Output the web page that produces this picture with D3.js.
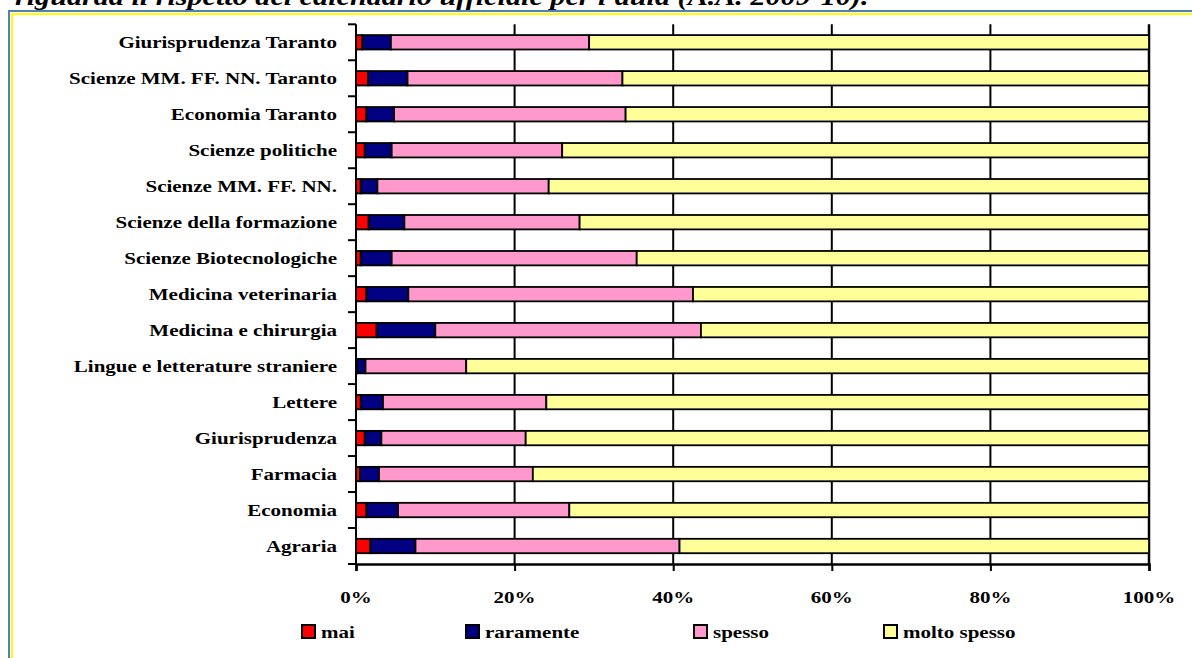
<!DOCTYPE html>
<html>
<head>
<meta charset="utf-8">
<script src="https://cdn.jsdelivr.net/npm/d3@7"></script>
<style>
  html, body { margin: 0; padding: 0; background: #fff; }
  svg { display: block; }
  text { font-family: "Liberation Serif", "Times New Roman", serif; font-weight: bold; fill: #000; }
</style>
</head>
<body>
<svg id="chart" width="1192" height="658"></svg>
<script>
// dati (percentuali per facoltà, dall'alto verso il basso)
const categories = [
  "Giurisprudenza Taranto", "Scienze MM. FF. NN. Taranto", "Economia Taranto",
  "Scienze politiche", "Scienze MM. FF. NN.", "Scienze della formazione",
  "Scienze Biotecnologiche", "Medicina veterinaria", "Medicina e chirurgia",
  "Lingue e letterature straniere", "Lettere", "Giurisprudenza",
  "Farmacia", "Economia", "Agraria"
];
const mai         = [0.8, 1.5, 1.3, 1.1, 0.6, 1.6, 0.6, 1.3, 2.6, 0.2, 0.6, 1.1, 0.5, 1.3, 1.8];
const raramente   = [3.6, 5.0, 3.5, 3.4, 2.1, 4.5, 3.9, 5.3, 7.4, 1.0, 2.8, 2.1, 2.4, 4.0, 5.7];
const spesso      = [25.0, 27.1, 29.2, 21.5, 21.6, 22.1, 30.9, 35.9, 33.5, 12.7, 20.6, 18.2, 19.4, 21.6, 33.3];
const moltoSpesso = [70.6, 66.4, 66.0, 74.0, 75.7, 71.8, 64.6, 57.5, 56.5, 86.1, 76.0, 78.6, 77.7, 73.1, 59.2];
const seriesNames = ["mai", "raramente", "spesso", "molto spesso"];
const seriesColors = ["#FF0000", "#000080", "#FF99CC", "#FFFF99"];
const tickValues = [0, 20, 40, 60, 80, 100];
const tickLabels = ["0%", "20%", "40%", "60%", "80%", "100%"];
const title = "riguarda il rispetto del calendario ufficiale per l'aula (A.A. 2009-10).";

const svg = d3.select("#chart");
const stretch = 1.2;

// titolo tagliato in alto
svg.append("text")
   .attr("transform", "translate(15,5) scale(1.16,1)")
   .style("font-size", "26px")
   .style("font-style", "italic")
   .text(title);

// bordo
svg.append("path").attr("d", "M9,658V11H1192").attr("fill", "none")
   .attr("stroke", "#4F81BD").attr("stroke-width", 2);
svg.append("path").attr("d", "M12,658V14H1192").attr("fill", "none")
   .attr("stroke", "#FFFF00").attr("stroke-width", 2);

const x = d3.scaleLinear().domain([0, 100]).range([356, 1149]);
const y = d3.scaleBand().domain(categories).range([24.3, 564]).paddingInner(0.6).paddingOuter(0.3);
const plotTop = y.range()[0], plotBottom = y.range()[1];

const rows = categories.map((c, i) => ({
  cat: c, "mai": mai[i], "raramente": raramente[i], "spesso": spesso[i], "molto spesso": moltoSpesso[i]
}));
const stack = d3.stack().keys(seriesNames)(rows);

// griglia verticale
svg.append("g").selectAll("line")
   .data(tickValues.slice(1))
   .enter().append("line")
   .attr("x1", d => x(d)).attr("x2", d => x(d))
   .attr("y1", plotTop).attr("y2", plotBottom)
   .attr("stroke", "#000").attr("stroke-width", d => d === 100 ? 2.5 : 2);

// barre
svg.append("g").selectAll("g")
   .data(stack)
   .enter().append("g")
   .attr("fill", (d, i) => seriesColors[i])
   .selectAll("rect")
   .data(d => d)
   .enter().append("rect")
   .attr("x", d => x(d[0]))
   .attr("width", d => x(d[1]) - x(d[0]))
   .attr("y", d => y(d.data.cat))
   .attr("height", y.bandwidth())
   .attr("stroke", "#000")
   .attr("stroke-width", 1.8);

// asse categorie
const step = y.step();
svg.append("line").attr("x1", x(0)).attr("x2", x(0)).attr("y1", plotTop).attr("y2", plotBottom)
   .attr("stroke", "#000").attr("stroke-width", 2);
svg.append("g").selectAll("line")
   .data(categories.concat(["end"]))
   .enter().append("line")
   .attr("x1", x(0) - 8).attr("x2", x(0))
   .attr("y1", (d, i) => plotTop + i * step).attr("y2", (d, i) => plotTop + i * step)
   .attr("stroke", "#000").attr("stroke-width", 2);

svg.append("g").selectAll("text")
   .data(categories)
   .enter().append("text")
   .attr("text-anchor", "end")
   .attr("transform", d => `translate(337,${y(d) + y.bandwidth() / 2 + 5.8}) scale(${stretch},1)`)
   .style("font-size", "17.5px")
   .text(d => d);

// asse valori
const xAxis = svg.append("g")
   .attr("transform", `translate(0,${plotBottom})`)
   .call(d3.axisBottom(x).tickValues(tickValues).tickSize(7).tickFormat(""));
xAxis.select(".domain").attr("stroke-width", 2.5);
xAxis.selectAll(".tick line").attr("stroke-width", 2);

svg.append("g").selectAll("text")
   .data(tickValues)
   .enter().append("text")
   .attr("text-anchor", "middle")
   .attr("transform", d => `translate(${x(d)},603) scale(${stretch},1)`)
   .style("font-size", "17.5px")
   .text((d, i) => tickLabels[i]);

// legenda
const legendX = [302, 466, 694, 884];
const legend = svg.append("g").selectAll("g")
   .data(seriesNames)
   .enter().append("g")
   .attr("transform", (d, i) => `translate(${legendX[i]},625)`);
legend.append("rect")
   .attr("width", 13).attr("height", 13)
   .attr("fill", (d, i) => seriesColors[i])
   .attr("stroke", "#000").attr("stroke-width", 2);
legend.append("text")
   .attr("transform", `translate(19,13) scale(${stretch},1)`)
   .style("font-size", "17.5px")
   .text(d => d);
</script>
</body>
</html>
